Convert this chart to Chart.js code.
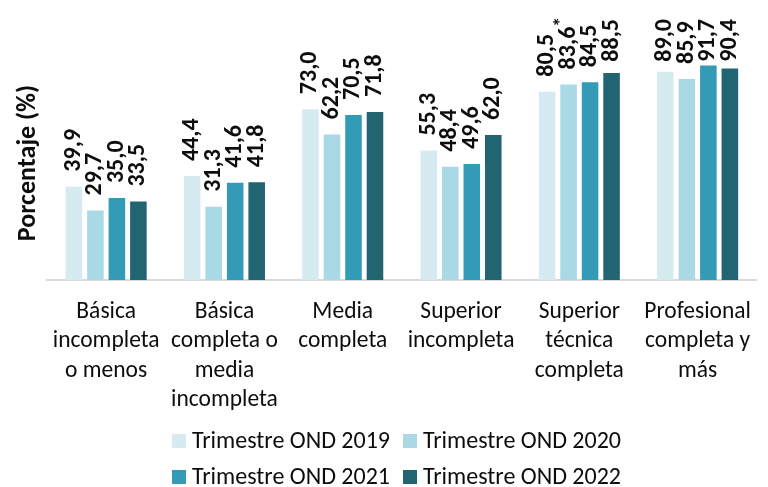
<!DOCTYPE html>
<html>
<head>
<meta charset="utf-8">
<script src="https://cdn.jsdelivr.net/npm/chart.js@4.4.1/dist/chart.umd.min.js"></script>
<style>
  html, body { margin: 0; padding: 0; background: #ffffff; }
  #wrap { width: 768px; height: 487px; position: relative; }
</style>
</head>
<body>
<div id="wrap"><canvas id="c" width="768" height="487"></canvas></div>
<script>
const categories = [
  ['Básica', 'incompleta', 'o menos'],
  ['Básica', 'completa o', 'media', 'incompleta'],
  ['Media', 'completa'],
  ['Superior', 'incompleta'],
  ['Superior', 'técnica', 'completa'],
  ['Profesional', 'completa y', 'más']
];
const seriesNames = ['Trimestre OND 2019', 'Trimestre OND 2020', 'Trimestre OND 2021', 'Trimestre OND 2022'];
const values2019 = [39.9, 44.4, 73.0, 55.3, 80.5, 89.0];
const values2020 = [29.7, 31.3, 62.2, 48.4, 83.6, 85.9];
const values2021 = [35.0, 41.6, 70.5, 49.6, 84.5, 91.7];
const values2022 = [33.5, 41.8, 71.8, 62.0, 88.5, 90.4];
const notes2019 = ['', '', '', '', '', ''];
const notes2020 = ['', '', '', '', '*', ''];
const notes2021 = ['', '', '', '', '', ''];
const notes2022 = ['', '', '', '', '', ''];
const yAxisTitle = 'Porcentaje (%)';
const yMin = 0;
const yMax = 100;

const colors = ['#d5ebf1', '#a9d9e5', '#349bb6', '#216472'];
const FONT = 'Carlito, Lato, sans-serif';

const allValues = [values2019, values2020, values2021, values2022];
const allNotes = [notes2019, notes2020, notes2021, notes2022];

const datasets = seriesNames.map((name, i) => ({
  label: name,
  data: allValues[i],
  notes: allNotes[i],
  backgroundColor: colors[i],
  borderColor: '#ffffff',
  borderWidth: 0,
  categoryPercentage: 0.727,
  barPercentage: 0.77
}));

const fmt = v => v.toFixed(1).replace('.', ',');

const valueLabels = {
  id: 'valueLabels',
  afterDatasetsDraw(chart) {
    const ctx = chart.ctx;
    ctx.save();
    chart.data.datasets.forEach((ds, di) => {
      const meta = chart.getDatasetMeta(di);
      meta.data.forEach((bar, i) => {
        const txt = fmt(ds.data[i]);
        ctx.font = 'bold 24px ' + FONT;
        const w = ctx.measureText(txt).width;
        let start = bar.y - 15;
        start = Math.max(start, 19 + w);
        ctx.save();
        ctx.translate(bar.x, start);
        ctx.rotate(-Math.PI / 2);
        ctx.fillStyle = '#0d0d0d';
        ctx.textAlign = 'left';
        ctx.textBaseline = 'middle';
        ctx.fillText(txt, 0, 0);
        const note = ds.notes ? ds.notes[i] : '';
        if (note) {
          ctx.font = 'bold 20px ' + FONT;
          ctx.fillText(note, w, -7);
        }
        ctx.restore();
      });
    });
    ctx.restore();
  }
};

const customLegend = {
  id: 'customLegend',
  afterDraw(chart) {
    const ctx = chart.ctx;
    ctx.save();
    const colX = [172, 403];
    const rowY = [441, 477];
    chart.data.datasets.forEach((ds, i) => {
      const col = i % 2, row = Math.floor(i / 2);
      const x = colX[col], y = rowY[row];
      ctx.fillStyle = ds.backgroundColor;
      ctx.fillRect(x, y - 7, 14, 14);
      ctx.fillStyle = '#0d0d0d';
      ctx.font = '24px ' + FONT;
      ctx.textAlign = 'left';
      ctx.textBaseline = 'middle';
      ctx.fillText(ds.label, x + 20, y + 1);
    });
    ctx.restore();
  }
};

new Chart(document.getElementById('c'), {
  type: 'bar',
  data: { labels: categories, datasets },
  plugins: [valueLabels, customLegend],
  options: {
    responsive: false,
    animation: false,
    devicePixelRatio: 1,
    layout: { padding: { top: 46, right: 1, bottom: 73, left: 0 } },
    plugins: {
      legend: { display: false },
      tooltip: { enabled: false },
      title: { display: false }
    },
    scales: {
      x: {
        grid: { display: false, drawTicks: false },
        border: { display: true, color: '#d9d9d9', width: 2 },
        ticks: {
          color: '#0d0d0d',
          font: { family: FONT, size: 23.5, lineHeight: '29.5px' },
          padding: 17,
          maxRotation: 0,
          minRotation: 0,
          autoSkip: false
        },
        afterFit(scale) { scale.height = 134; }
      },
      y: {
        min: yMin,
        max: yMax,
        grid: { display: false, drawTicks: false },
        border: { display: false },
        ticks: { display: false },
        title: {
          display: true,
          text: yAxisTitle,
          color: '#0d0d0d',
          font: { family: FONT, size: 26, weight: 'bold' },
          padding: { top: 13, bottom: 0 }
        },
        afterFit(scale) { scale.width = 47; }
      }
    }
  }
});
</script>
</body>
</html>
